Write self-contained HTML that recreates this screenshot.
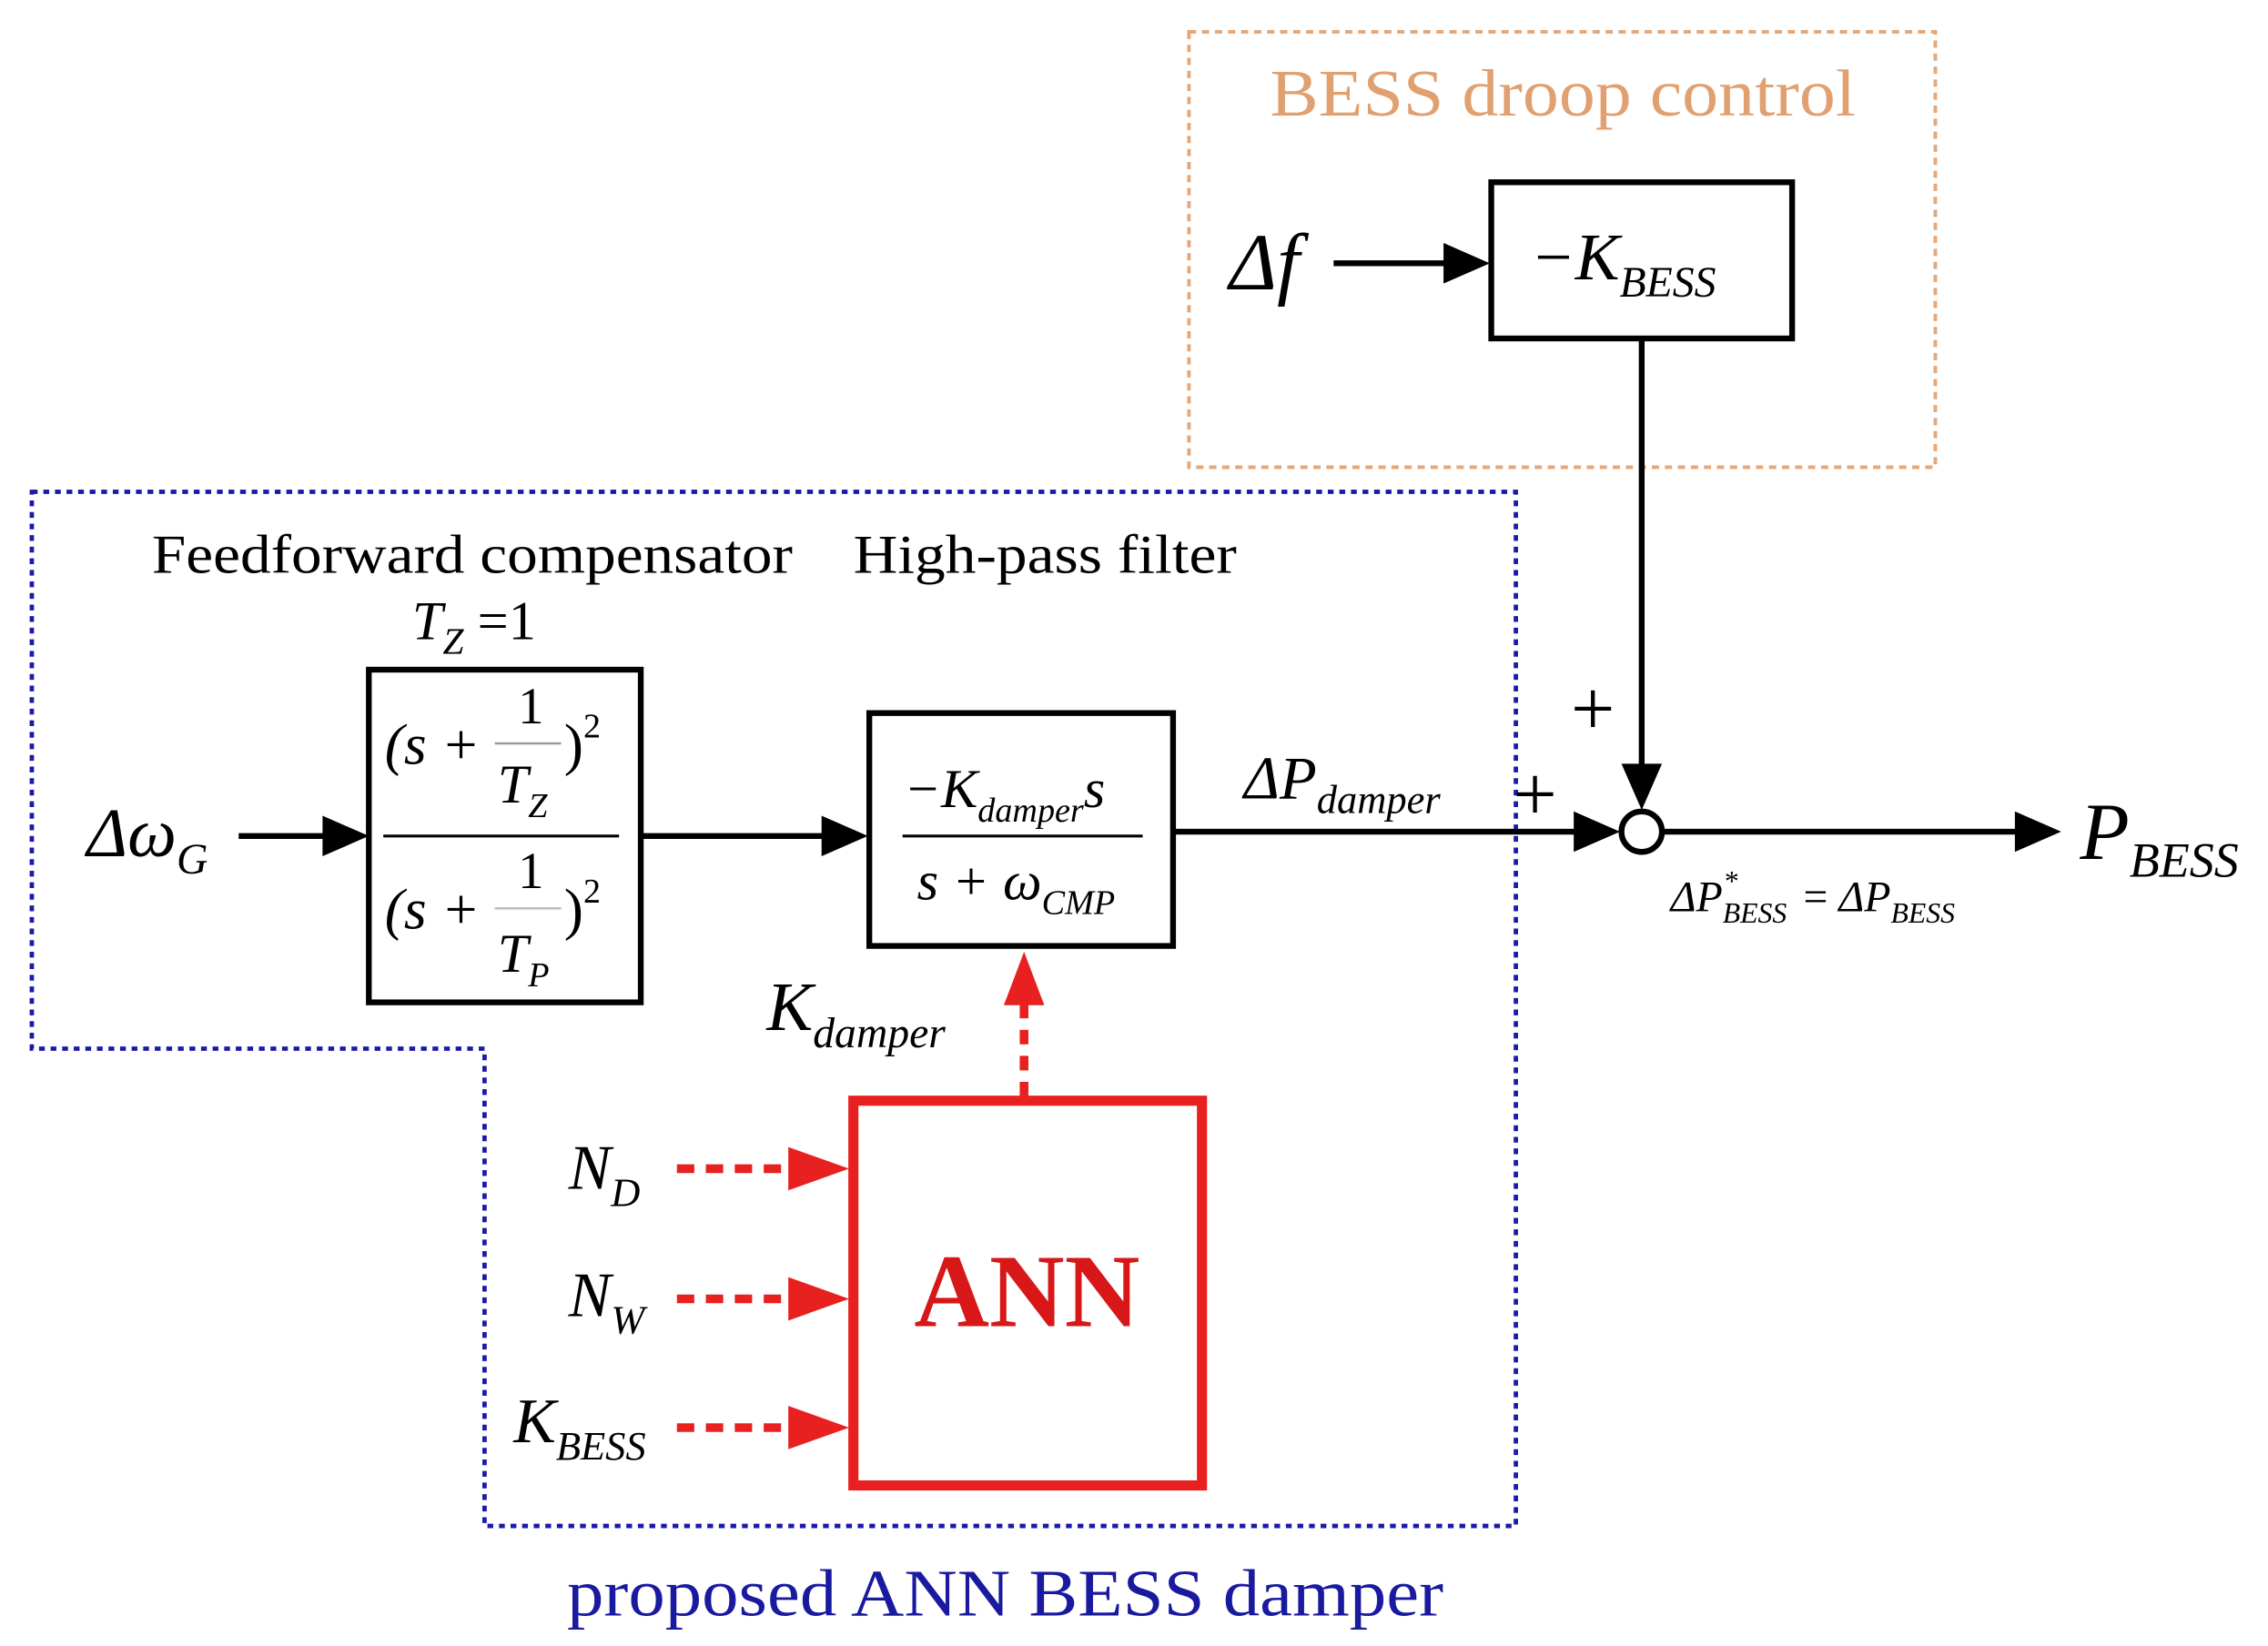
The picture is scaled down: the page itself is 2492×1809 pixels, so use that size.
<!DOCTYPE html>
<html><head><style>html,body{margin:0;padding:0;background:#fff}svg{display:block}</style></head><body>
<svg width="2492" height="1809" viewBox="0 0 1568 1138" preserveAspectRatio="none" xmlns="http://www.w3.org/2000/svg" font-family="Liberation Serif, serif">
<!-- orange box -->
<rect x="822" y="22" width="516" height="301" fill="none" stroke="#e6a878" stroke-width="2.5" stroke-dasharray="5,4"/>
<text x="878" y="80" font-size="46" fill="#e0a070" textLength="405" lengthAdjust="spacingAndGlyphs">BESS droop control</text>
<text x="850" y="200" font-size="56" font-style="italic">Δ<tspan>f</tspan></text>
<line x1="922" y1="182" x2="1000" y2="182" stroke="#000" stroke-width="4"/>
<polygon points="998,168 1030,182 998,196" fill="#000"/>
<rect x="1031" y="126" width="208" height="108" fill="#fff" stroke="#000" stroke-width="4"/>
<text x="1058" y="193" font-size="46" font-style="italic">−K<tspan font-size="30" dy="12">BESS</tspan></text>
<line x1="1135" y1="234" x2="1135" y2="530" stroke="#000" stroke-width="4"/>
<polygon points="1121,528 1135,560 1149,528" fill="#000"/>
<circle cx="1135" cy="575" r="14" fill="#fff" stroke="#000" stroke-width="4"/>
<!-- blue dotted -->
<polygon points="22,340 1048,340 1048,1055 335,1055 335,725 22,725" fill="none" stroke="#1a1aa8" stroke-width="3" stroke-dasharray="4,4"/>
<text x="105" y="396" font-size="38" textLength="443" lengthAdjust="spacingAndGlyphs">Feedforward compensator</text>
<text x="590" y="396" font-size="38" textLength="265" lengthAdjust="spacingAndGlyphs">High-pass filter</text>
<text x="285" y="442" font-size="38" font-style="italic">T<tspan font-size="26" dy="10">Z</tspan><tspan dy="-10" font-style="normal"> =1</tspan></text>
<text x="60" y="592" font-size="48" font-style="italic">Δω<tspan font-size="30" dy="12">G</tspan></text>
<line x1="165" y1="578" x2="225" y2="578" stroke="#000" stroke-width="4"/>
<polygon points="223,564 255,578 223,592" fill="#000"/>
<rect x="255" y="463" width="188" height="230" fill="#fff" stroke="#000" stroke-width="4"/>
<line x1="265" y1="578" x2="428" y2="578" stroke="#000" stroke-width="2"/>
<text x="266" y="528" font-size="40" font-style="italic">(s +</text>
<text x="358" y="500" font-size="36">1</text>
<line x1="342" y1="514" x2="388" y2="514" stroke="#999" stroke-width="1.5"/>
<text x="344" y="555" font-size="38" font-style="italic">T<tspan font-size="24" dy="10">Z</tspan></text>
<text x="390" y="528" font-size="40">)<tspan font-size="24" dy="-18">2</tspan></text>
<text x="266" y="642" font-size="40" font-style="italic">(s +</text>
<text x="358" y="614" font-size="36">1</text>
<line x1="342" y1="628" x2="388" y2="628" stroke="#bbb" stroke-width="1.5"/>
<text x="344" y="672" font-size="38" font-style="italic">T<tspan font-size="24" dy="10">P</tspan></text>
<text x="390" y="642" font-size="40">)<tspan font-size="24" dy="-18">2</tspan></text>
<line x1="443" y1="578" x2="570" y2="578" stroke="#000" stroke-width="4"/>
<polygon points="568,564 600,578 568,592" fill="#000"/>
<rect x="601" y="493" width="210" height="161" fill="#fff" stroke="#000" stroke-width="4"/>
<text x="625" y="558" font-size="38" font-style="italic">−K<tspan font-size="24" dy="10">damper</tspan><tspan dy="-10" font-size="38">s</tspan></text>
<line x1="624" y1="578" x2="790" y2="578" stroke="#000" stroke-width="2"/>
<text x="634" y="622" font-size="38" font-style="italic">s + ω<tspan font-size="24" dy="10">CMP</tspan></text>
<line x1="811" y1="575" x2="1090" y2="575" stroke="#000" stroke-width="4"/>
<polygon points="1088,561 1120,575 1088,589" fill="#000"/>
<text x="860" y="552" font-size="42" font-style="italic">ΔP<tspan font-size="28" dy="10">damper</tspan></text>
<text x="1046" y="567" font-size="54">+</text>
<text x="1086" y="508" font-size="54">+</text>
<line x1="1149" y1="575" x2="1395" y2="575" stroke="#000" stroke-width="4"/>
<polygon points="1393,561 1425,575 1393,589" fill="#000"/>
<text x="1438" y="594" font-size="56" font-style="italic">P<tspan font-size="34" dy="12">BESS</tspan></text>
<text x="1155" y="630" font-size="30" font-style="italic">ΔP<tspan font-size="20" dy="8">BESS</tspan><tspan font-size="20" dx="-44" dy="-22">*</tspan><tspan font-size="30" dx="38" dy="14" font-style="normal"> = </tspan>ΔP<tspan font-size="20" dy="8">BESS</tspan></text>
<!-- ANN -->
<text x="530" y="712" font-size="48" font-style="italic">K<tspan font-size="30" dy="12">damper</tspan></text>
<line x1="708" y1="758" x2="708" y2="690" stroke="#e82020" stroke-width="6" stroke-dasharray="10,8"/>
<polygon points="694,695 708,658 722,695" fill="#e82020"/>
<rect x="590" y="761" width="241" height="266" fill="#fff" stroke="#e82020" stroke-width="7"/>
<text x="710" y="917" font-size="72" font-weight="bold" fill="#d81818" text-anchor="middle">ANN</text>
<text x="393" y="822" font-size="44" font-style="italic">N<tspan font-size="28" dy="12">D</tspan></text>
<text x="393" y="910" font-size="44" font-style="italic">N<tspan font-size="28" dy="12">W</tspan></text>
<text x="355" y="997" font-size="44" font-style="italic">K<tspan font-size="28" dy="12">BESS</tspan></text>
<g stroke="#e82020" stroke-width="6" stroke-dasharray="12,8">
<line x1="468" y1="808" x2="550" y2="808"/>
<line x1="468" y1="898" x2="550" y2="898"/>
<line x1="468" y1="987" x2="550" y2="987"/>
</g>
<g fill="#e82020">
<polygon points="545,793 587,808 545,823"/>
<polygon points="545,883 587,898 545,913"/>
<polygon points="545,972 587,987 545,1002"/>
</g>
<text x="392" y="1117" font-size="46" fill="#1a1aa0" textLength="606" lengthAdjust="spacingAndGlyphs">proposed ANN BESS damper</text>
</svg>
</body></html>
